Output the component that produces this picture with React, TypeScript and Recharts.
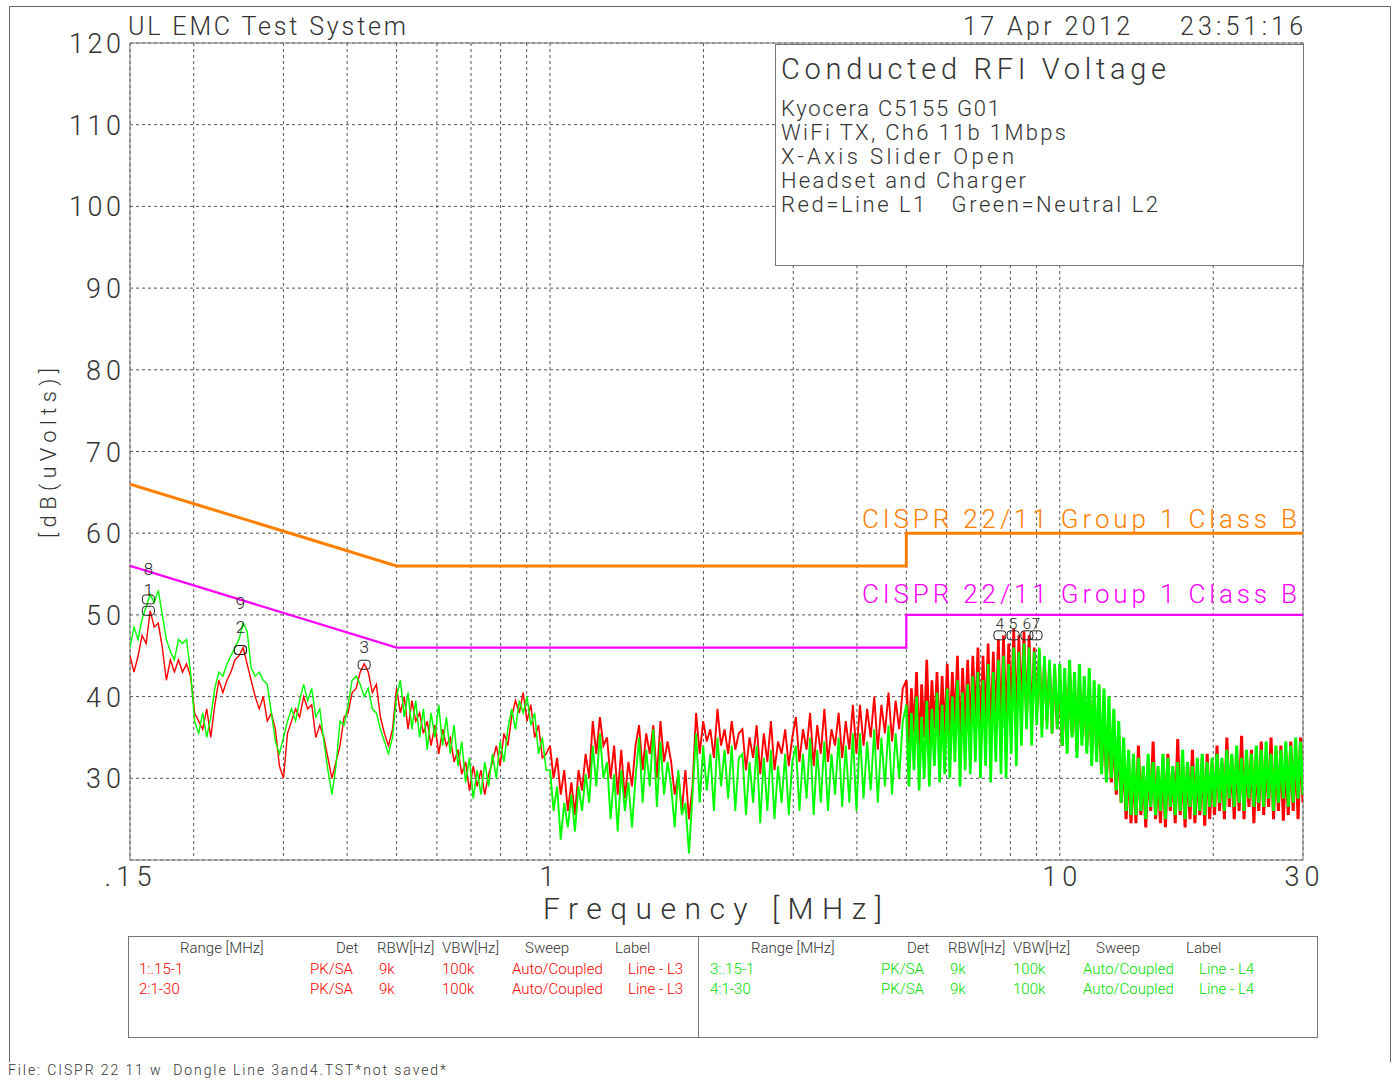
import React from "react";
import {
  ComposedChart,
  Line,
  XAxis,
  YAxis,
  CartesianGrid,
  ReferenceArea,
  ReferenceDot,
} from "recharts";

const FONT = "Roboto, 'DejaVu Sans', sans-serif";
const INK = "#333";
const RED = "#ff0000";
const GREEN = "#00ff00";
const ORANGE = "#ff8000";
const MAGENTA = "#ff00ff";

// axis ticks
const FREQ_TICKS = [0.15, 0.2, 0.3, 0.4, 0.5, 0.6, 0.7, 0.8, 0.9, 1, 2, 3, 4, 5, 6, 7, 8, 9, 10, 20, 30];
const FREQ_LABELS: Record<string, string> = { "0.15": ".15", "1": "1", "10": "10", "30": "30" };
const LEVEL_TICKS = [20, 30, 40, 50, 60, 70, 80, 90, 100, 110, 120];

// CISPR 22 class B limits (QP orange, AV magenta)
const limitFreq = [0.15, 0.5, 5, 5, 30];
const qpLevel = [66, 56, 56, 60, 60];
const avLevel = [56, 46, 46, 50, 50];

// sweep bands [MHz]
const bandStart = [0.15, 0.5, 1, 5, 10];
const bandEnd = [0.5, 1, 5, 10, 30];

// Neutral L2 (green) and Line L1 (red), peak readings per band
const greenA = [
  46, 48.5, 47, 49.5, 51, 52.5, 51.5, 53, 50, 47,
  45.5, 44.5, 47, 46.5, 47, 43, 37, 35.5, 38, 35,
  37.5, 41, 43, 42.5, 44, 45, 46, 47, 49, 48,
  43.5, 42.5, 43, 42, 41.5, 38, 34.5, 33, 35, 37,
  38.5, 37, 39.5, 41.5, 39.5, 41, 37.5, 38.5, 34.5, 31,
  28, 31.5, 37, 36.5, 39, 42, 42.5, 41.5, 40, 41,
  38.5, 38, 36, 34.5, 33, 35,
];
const redA = [
  45, 43, 45, 47.5, 46.5, 50.5, 48.5, 49, 46, 42,
  44.5, 43, 44.5, 43, 44, 42.5, 38, 37, 36, 38.5,
  35, 39, 42, 40.5, 42, 43, 44.5, 45, 46, 44,
  42, 40, 38.5, 40, 37, 38, 36, 31.5, 30, 35.5,
  37, 38.5, 37.5, 40, 38.5, 39, 35, 36.5, 35, 32.5,
  30, 32, 34, 37.5, 38, 40.5, 41, 43, 44, 43,
  40.5, 41.5, 37.5, 35.5, 34, 36,
];
const greenB = [
  40, 42, 37.5, 40.5, 36, 39.5, 35, 38.5, 33.5, 38,
  35, 39, 34, 37.5, 33, 36.5, 31.5, 34.5, 29.5, 32.5,
  27.5, 31, 28, 32, 29, 33, 30, 34.5, 32, 36,
  38.5, 36, 39.5, 38, 40, 36.5, 38, 33, 35, 31,
];
const redB = [
  41, 38, 40, 36, 39.5, 37, 38, 35.5, 37, 34,
  36.5, 33, 36, 34, 35, 32, 33.5, 30.5, 32, 28.5,
  31.5, 29, 31, 28, 30.5, 32, 34, 31.5, 35.5, 34,
  37.5, 39.5, 38, 40.5, 37, 39, 35, 36.5, 32.5, 33,
];
const greenC = [
  31, 26, 29, 22.5, 27, 24, 28, 23.5,
  29, 26, 30.5, 27,
  34, 29, 35.5, 30,
  32, 25, 30.5, 23.5, 31, 26, 29.5, 24, 30,
  35, 27, 33.5, 29, 36, 26.5, 34.5, 28, 32,
  29, 24, 31, 25.5, 27, 20.8, 28,
  35.5, 27, 34, 28.5, 33, 26, 35, 29, 33.5, 27.5, 34, 26, 32.5,
  33, 25.5, 32, 27, 34, 24.5, 32.5, 26, 33.5, 25, 31.5, 27, 33, 25.5, 32,
  34, 26, 33, 27.5, 35, 25.5, 33.5, 27, 34.5, 26, 33, 28, 35, 26.5, 34, 27, 35.5, 26,
  35.5, 27.5, 34.5, 28.5, 36, 27, 35, 29, 36.5, 28, 35.5, 30, 37,
];
const redC = [
  34, 30, 32.5, 28, 31, 26, 29.5, 25.5,
  31, 28.5, 33, 30,
  37, 33, 37.5, 34,
  35, 30, 34, 28, 33.5, 27.5, 32, 29, 34,
  36.5, 31, 35.5, 33, 36.5, 30, 37, 32, 34.5,
  32, 28, 30.5, 26, 31, 25, 29,
  38, 33, 37, 34.5, 36, 32.5, 38.5, 34, 36, 33, 37, 33.5, 35.5,
  36, 31, 35, 32.5, 36.5, 30.5, 35.5, 32, 37, 31, 34.5, 33, 36, 31.5, 35,
  37.5, 32, 36, 33.5, 38, 31.5, 36.5, 33, 38.5, 32, 36, 34, 38, 32.5, 37, 33.5, 39, 33,
  39, 34, 38.5, 35, 40, 33.5, 39, 35.5, 40.5, 34.5, 39.5, 36, 41,
];
const greenD = [
  39, 29, 38, 31, 40, 28.5, 37.5, 30, 39.5, 29, 38.5, 31.5, 40.5, 29.5, 39, 30.5,
  41, 30, 40, 32, 42, 29, 40.5, 31, 41.5, 30.5, 42.5, 32,
  43, 30, 42, 31.5, 44, 29.5, 43, 32, 44.5, 30.5,
  45, 30, 44, 33, 46, 31.5, 45.5, 34, 46.5,
  36, 46, 34, 45.5, 36.5, 46, 35, 45, 36, 44.5, 35.5, 44, 36,
];
const redD = [
  42, 34, 41, 35.5, 43, 33.5, 41.5, 35, 44.5, 34, 42, 36, 43, 34.5, 42.5, 35,
  44, 35, 43, 36.5, 45, 34, 43.5, 36, 44.5, 35.5, 45, 37,
  46, 35, 45, 37, 46.5, 34.5, 45.5, 36.5, 47, 35.5,
  47.5, 36, 46.5, 38, 48.3, 36.5, 47.5, 38.5, 48,
  37, 47.5, 36, 46, 38, 45.5, 36.5, 44.5, 37, 44, 35.5, 43.5, 36,
];
const greenE = [
  44, 34, 43.5, 33, 44.5, 35, 43, 32.5, 44, 34, 42.5, 33, 43.5, 31.5, 42, 32, 41.5,
  30.5, 41, 29.5, 40, 30, 38.5, 28.5, 37,
  27, 35, 26, 33.5, 25.5, 33,
  25.5, 32.5, 26, 31.5, 25, 33, 26.5, 32, 25.5, 31.5, 26, 33, 25, 32.5, 26.5, 31.5,
  25.5, 32, 26, 33.5, 25, 32, 26.5, 31.5, 25.5, 32.5, 26, 33, 25.5, 32, 26.5, 32.5,
  26.5, 33, 27, 32.5, 26, 33.5, 27.5, 33, 26.5, 34, 27, 32.5, 26, 33.5, 27.5, 33, 26.5, 34,
  27, 33.5, 26.5, 34.5, 27.5, 33, 26, 34, 27, 33.5, 27.5, 34.5, 26.5, 34, 27, 35, 27.5, 34.5, 28,
];
const redE = [
  42, 34, 41.5, 35, 43, 35.5, 41, 33.5, 42, 35, 40.5, 34, 41, 33, 40, 33.5, 39.5,
  31, 38, 30, 37, 29.5, 36, 28, 35,
  27, 33, 25, 32, 24.5, 31.5,
  24.5, 34, 25.5, 31, 24, 32, 26, 34.5, 25, 31, 24.5, 32.5, 24, 33, 26, 31,
  24.5, 34.8, 25.5, 31.5, 24, 32, 25, 33.5, 24.5, 31, 25.5, 32.5, 24.2, 33, 25, 32,
  25.5, 34, 26, 32, 25, 35, 26.5, 32.5, 25, 33, 26, 35.2, 25, 32.5, 26.5, 33.5, 24.5, 33,
  26, 34.5, 25.5, 33, 26.5, 35, 25, 33.5, 26, 34, 24.8, 33, 25.5, 34.5, 26, 33.5, 25, 35, 27,
];
const greenBands = [greenA, greenB, greenC, greenD, greenE];
const redBands = [redA, redB, redC, redD, redE];

// peak markers
const markFreq = [0.163, 0.163, 0.247, 0.247, 0.432, 7.63, 8.1, 8.62, 8.98];
const markLevel = [50.5, 51.9, 45.7, 45.7, 43.9, 47.5, 47.5, 47.5, 47.5];
const markName = ["1", "8", "2", "9", "3", "4", "5", "6", "7"];
const markLabelDy = [-21, -30, -23, -47, -18, -12, -12, -12, -12];
const markFont = [17, 17, 17, 17, 17, 15, 15, 15, 15];

// measurement table
const tableHead = ["Range [MHz]", "Det", "RBW[Hz]", "VBW[Hz]", "Sweep", "Label"];
const headX = [180, 336, 377, 442, 525, 615];
const rowX = [139, 310, 379, 442, 512, 628];
const redRows = [
  ["1:.15-1", "PK/SA", "9k", "100k", "Auto/Coupled", "Line - L3"],
  ["2:1-30", "PK/SA", "9k", "100k", "Auto/Coupled", "Line - L3"],
];
const greenRows = [
  ["3:.15-1", "PK/SA", "9k", "100k", "Auto/Coupled", "Line - L4"],
  ["4:1-30", "PK/SA", "9k", "100k", "Auto/Coupled", "Line - L4"],
];

const infoLines = [
  "Kyocera C5155 G01",
  "WiFi TX, Ch6 11b 1Mbps",
  "X-Axis Slider Open",
  "Headset and Charger",
  "Red=Line L1   Green=Neutral L2",
];
const infoLen = [219, 285, 233, 245, 377];

function sweep(lo: number, hi: number, values: number[], closeWith?: number) {
  const steps = closeWith === undefined ? values.length - 1 : values.length;
  const pts = values.map((v, i) => ({ f: lo * Math.pow(hi / lo, i / steps), v }));
  if (closeWith !== undefined) pts.push({ f: hi, v: closeWith });
  return pts;
}

function bandPoints(bands: number[][]) {
  return bands.map((vals, i) =>
    sweep(bandStart[i], bandEnd[i], vals, i < bands.length - 1 ? bands[i + 1][0] : undefined)
  );
}

const greenPts = bandPoints(greenBands);
const redPts = bandPoints(redBands);
const qpPts = limitFreq.map((f, i) => ({ f, v: qpLevel[i] }));
const avPts = limitFreq.map((f, i) => ({ f, v: avLevel[i] }));
const bandStroke = [1.4, 1.5, 1.9, 2.6, 3];

const XTick = (props: any) => {
  const label = FREQ_LABELS[String(props.payload.value)];
  if (!label) return <g />;
  const len = label === ".15" ? 47 : label.length > 1 ? 35 : undefined;
  const dx = label === ".15" ? -2 : label === "1" ? -3 : label === "30" ? -1 : 0;
  return (
    <text
      x={props.x + dx}
      y={886}
      textAnchor="middle"
      fontSize={27}
      fontFamily={FONT}
      fontWeight={300}
      fill={INK}
      textLength={len}
      lengthAdjust="spacing"
    >
      {label}
    </text>
  );
};

const YTick = (props: any) => {
  const v = props.payload.value;
  if (v === 20) return <g />;
  const s = String(v);
  return (
    <text
      x={121}
      y={props.y + 10}
      textAnchor="end"
      fontSize={27}
      fontFamily={FONT}
      fontWeight={300}
      fill={INK}
      textLength={s.length === 3 ? 52 : 35}
      lengthAdjust="spacing"
    >
      {s}
    </text>
  );
};

const Txt = ({ x, y, size, len, fill = INK, children, anchor = "start" }: any) => (
  <text
    x={x}
    y={y}
    fontSize={size}
    fontFamily={FONT}
    fontWeight={300}
    fill={fill}
    textLength={len}
    lengthAdjust="spacing"
    textAnchor={anchor}
    style={{ whiteSpace: "pre" }}
  >
    {children}
  </text>
);

export default function App() {
  return (
    <div
      style={{
        position: "absolute",
        left: 0,
        top: 0,
        width: 1396,
        height: 1080,
        background: "#fff",
        overflow: "hidden",
      }}
    >
      <ComposedChart
        width={1396}
        height={1080}
        margin={{ top: 43, right: 93, bottom: 180, left: 70 }}
      >
        <CartesianGrid stroke="#555" strokeDasharray="3 3" />
        <XAxis
          dataKey="f"
          type="number"
          scale="log"
          domain={[0.15, 30]}
          ticks={FREQ_TICKS}
          allowDataOverflow
          axisLine={false}
          tickLine={false}
          height={40}
          tick={XTick}
          interval={0}
        />
        <YAxis
          type="number"
          domain={[20, 120]}
          ticks={LEVEL_TICKS}
          allowDataOverflow
          axisLine={false}
          tickLine={false}
          width={60}
          tick={YTick}
          interval={0}
        />
        <ReferenceArea x1={0.15} x2={30} y1={20} y2={120} fill="none" stroke="#777" strokeWidth={1} />
        <Line data={qpPts} dataKey="v" type="linear" stroke={ORANGE} strokeWidth={3} dot={false} isAnimationActive={false} />
        <Line data={avPts} dataKey="v" type="linear" stroke={MAGENTA} strokeWidth={2.2} dot={false} isAnimationActive={false} />
        {redPts.map((pts, i) => (
          <Line
            key={`red-${i}`}
            data={pts}
            dataKey="v"
            type="linear"
            stroke={RED}
            strokeWidth={bandStroke[i]}
            strokeLinejoin="miter"
            dot={false}
            isAnimationActive={false}
          />
        ))}
        {greenPts.map((pts, i) => (
          <Line
            key={`green-${i}`}
            data={pts}
            dataKey="v"
            type="linear"
            stroke={GREEN}
            strokeWidth={bandStroke[i]}
            strokeLinejoin="miter"
            dot={false}
            isAnimationActive={false}
          />
        ))}
        {markFreq.map((f, i) => (
          <ReferenceDot
            key={`mk-${i}`}
            x={f}
            y={markLevel[i]}
            r={0}
            ifOverflow="visible"
            shape={(p: any) => (
              <g>
                <rect x={p.cx - 6} y={p.cy - 4.5} width={12} height={9} rx={3} fill="none" stroke="#222" strokeWidth={1} />
                <text
                  x={p.cx}
                  y={p.cy + markLabelDy[i] + 6}
                  textAnchor="middle"
                  fontSize={markFont[i]}
                  fontFamily={FONT}
                  fontWeight={300}
                  fill="#222"
                >
                  {markName[i]}
                </text>
              </g>
            )}
          />
        ))}
      </ComposedChart>

      <svg
        width={1396}
        height={1080}
        style={{ position: "absolute", left: 0, top: 0, pointerEvents: "none" }}
      >
        {/* page frame */}
        <path d="M9.5 1062 V6.5 H1390.5 V1062" fill="none" stroke="#666" strokeWidth={1} />

        <Txt x={128} y={35} size={25} len={278}>UL EMC Test System</Txt>
        <Txt x={963} y={35} size={25} len={167}>17 Apr 2012</Txt>
        <Txt x={1180} y={35} size={25} len={123}>23:51:16</Txt>

        <text
          x={48}
          y={453}
          transform="rotate(-90 48 453)"
          textAnchor="middle"
          dominantBaseline="central"
          fontSize={22}
          fontFamily={FONT}
          fontWeight={300}
          fill={INK}
          textLength={170}
          lengthAdjust="spacing"
        >
          [dB(uVolts)]
        </text>

        <Txt x={543} y={919} size={30} len={339}>Frequency [MHz]</Txt>

        {/* info box */}
        <rect x={775.5} y={44.5} width={528} height={221} fill="#fff" stroke="#777" strokeWidth={1} />
        <Txt x={781} y={79} size={29} len={385}>Conducted RFI Voltage</Txt>
        {infoLines.map((s, i) => (
          <Txt key={s} x={781} y={116 + i * 24} size={22} len={infoLen[i]}>
            {s}
          </Txt>
        ))}

        <Txt x={862} y={528} size={26} len={435} fill={ORANGE}>CISPR 22/11 Group 1 Class B</Txt>
        <Txt x={862} y={603} size={26} len={435} fill={MAGENTA}>CISPR 22/11 Group 1 Class B</Txt>

        {/* measurement table */}
        <rect x={128.5} y={936.5} width={1189} height={101} fill="none" stroke="#777" strokeWidth={1} />
        <line x1={698.5} y1={936} x2={698.5} y2={1037} stroke="#777" strokeWidth={1} />
        {[0, 571].map((off) =>
          tableHead.map((h, j) => (
            <Txt key={`h-${off}-${j}`} x={headX[j] + off} y={953} size={15}>
              {h}
            </Txt>
          ))
        )}
        {redRows.map((row, r) =>
          row.map((c, j) => (
            <Txt key={`r-${r}-${j}`} x={rowX[j]} y={974 + r * 20} size={15} fill={RED}>
              {c}
            </Txt>
          ))
        )}
        {greenRows.map((row, r) =>
          row.map((c, j) => (
            <Txt key={`g-${r}-${j}`} x={rowX[j] + 571} y={974 + r * 20} size={15} fill="#00e000">
              {c}
            </Txt>
          ))
        )}

        <Txt x={8} y={1075} size={14} len={438}>
          File: CISPR 22 11 w  Dongle Line 3and4.TST*not saved*
        </Txt>
      </svg>
    </div>
  );
}
